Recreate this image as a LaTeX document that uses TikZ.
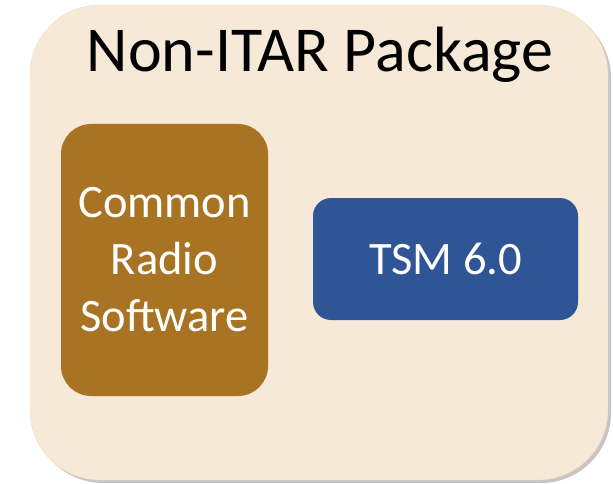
\documentclass[tikz,border=0pt]{standalone}
\usepackage{fontspec}
\setmainfont{Carlito}
\usepackage{xcolor}
\usetikzlibrary{positioning,shadows}
\definecolor{pkgbeige}{HTML}{F7E9D7}
\definecolor{pkgedge}{HTML}{EEDCBE}
\definecolor{crsbrown}{HTML}{A87424}
\definecolor{tsmblue}{HTML}{2F5597}
\begin{document}
\begin{tikzpicture}[x=1pt,y=1pt,
  box/.style={rounded corners=#1,text=white,align=center,font=\fontsize{46.5}{57}\selectfont}]
\useasboundingbox (0,0) rectangle (613,483);
% outer package
\node (pkg) [draw=pkgedge,fill=pkgbeige,rounded corners=70pt,minimum width=578pt,minimum height=475pt,
  drop shadow={shadow xshift=3pt,shadow yshift=-3pt,opacity=0.45}] at (319,240.5) {};
\node (title) at (320,428) {\fontsize{64}{70}\selectfont Non-ITAR Package};
% inner boxes
\node (crs) [box=30pt,fill=crsbrown,minimum width=207pt,minimum height=272pt] at (164.5,223) {Common\\Radio\\Software};
\node (tsm) [box=18pt,fill=tsmblue,minimum width=265pt,minimum height=122pt] at (445.5,224) {TSM 6.0};
\end{tikzpicture}
\end{document}
